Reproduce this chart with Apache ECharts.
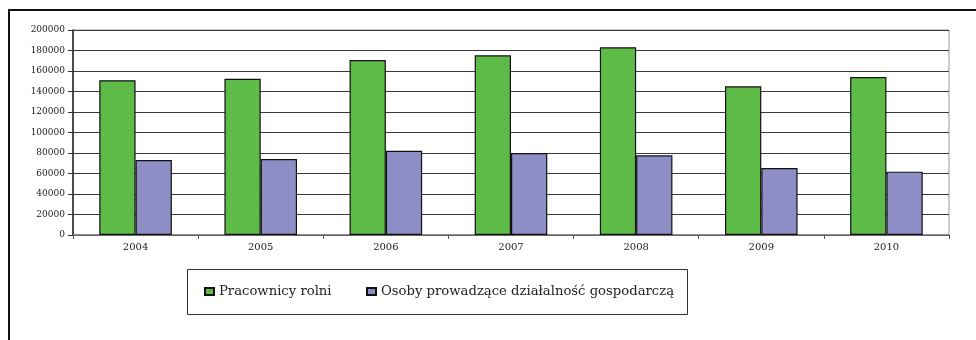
<!DOCTYPE html>
<html>
<head>
<meta charset="utf-8">
<script src="https://cdn.jsdelivr.net/npm/echarts@6/dist/echarts.min.js"></script>
<style>
  html, body { margin: 0; padding: 0; background: #fff; }
  #chart { width: 976px; height: 340px; }
</style>
</head>
<body>
<div id="chart"></div>
<script>
var years = ["2004", "2005", "2006", "2007", "2008", "2009", "2010"];
var rolni = [151000, 152500, 170700, 175300, 183100, 145000, 154100];
var osoby = [73200, 74200, 82200, 80000, 77700, 65400, 61800];
var yTicks = [0, 20000, 40000, 60000, 80000, 100000, 120000, 140000, 160000, 180000, 200000];

// obraz jest rozciągnięty w poziomie, więc szersza czcionka szeryfowa
var serifFont = "DejaVu Serif, Liberation Serif, serif";

var chart = echarts.init(document.getElementById("chart"), null, { renderer: "canvas" });

var option = {
  animation: false,
  backgroundColor: "#fff",
  grid: {
    left: 73,
    right: 27,
    top: 30,
    bottom: 105,
    show: true,
    borderColor: "#999",
    borderWidth: 1
  },
  // dwie legendy, żeby ustawić pozycje jak na oryginale
  legend: [
    {
      data: ["Pracownicy rolni"],
      left: 204,
      top: 285,
      padding: 0,
      itemWidth: 9,
      itemHeight: 7,
      itemGap: 0,
      icon: "rect",
      textStyle: { fontFamily: serifFont, fontSize: 13.2, color: "#222" }
    },
    {
      data: ["Osoby prowadzące działalność gospodarczą"],
      left: 366,
      top: 285,
      padding: 0,
      itemWidth: 9,
      itemHeight: 7,
      itemGap: 0,
      icon: "rect",
      textStyle: { fontFamily: serifFont, fontSize: 13.2, color: "#222" }
    }
  ],
  graphic: [
    {
      type: "rect",
      silent: true,
      shape: { x: 9, y: 10, width: 1000, height: 400 },
      style: { fill: "none", stroke: "#111", lineWidth: 2 }
    },
    {
      type: "rect",
      silent: true,
      shape: { x: 187.5, y: 269.5, width: 500, height: 45 },
      style: { fill: "none", stroke: "#333", lineWidth: 1 }
    }
  ],
  xAxis: {
    type: "category",
    data: years,
    axisLine: { lineStyle: { color: "#777", width: 1.5 } },
    axisTick: { show: true, inside: false, length: 4, alignWithLabel: false, lineStyle: { color: "#555" } },
    axisLabel: { fontFamily: serifFont, fontSize: 10, color: "#222", margin: 7 }
  },
  yAxis: {
    type: "value",
    min: yTicks[0],
    max: yTicks[yTicks.length - 1],
    interval: 20000,
    axisLine: { show: true, lineStyle: { color: "#222", width: 1.5 } },
    axisTick: { show: true, length: 5, lineStyle: { color: "#333" } },
    axisLabel: {
      fontFamily: serifFont,
      fontSize: 9,
      color: "#222",
      margin: 8,
      formatter: function (v) { return String(v); }
    },
    splitLine: { lineStyle: { color: "#3a3a3a", width: 1 } }
  },
  series: [
    {
      name: "Pracownicy rolni",
      type: "bar",
      data: rolni,
      barGap: "0%",
      barCategoryGap: "42%",
      itemStyle: { color: "#5fbb47", borderColor: "#111", borderWidth: 1.2 }
    },
    {
      name: "Osoby prowadzące działalność gospodarczą",
      type: "bar",
      data: osoby,
      itemStyle: { color: "#8e8ec6", borderColor: "#111", borderWidth: 1.2 }
    }
  ]
};

chart.setOption(option);
</script>
</body>
</html>
